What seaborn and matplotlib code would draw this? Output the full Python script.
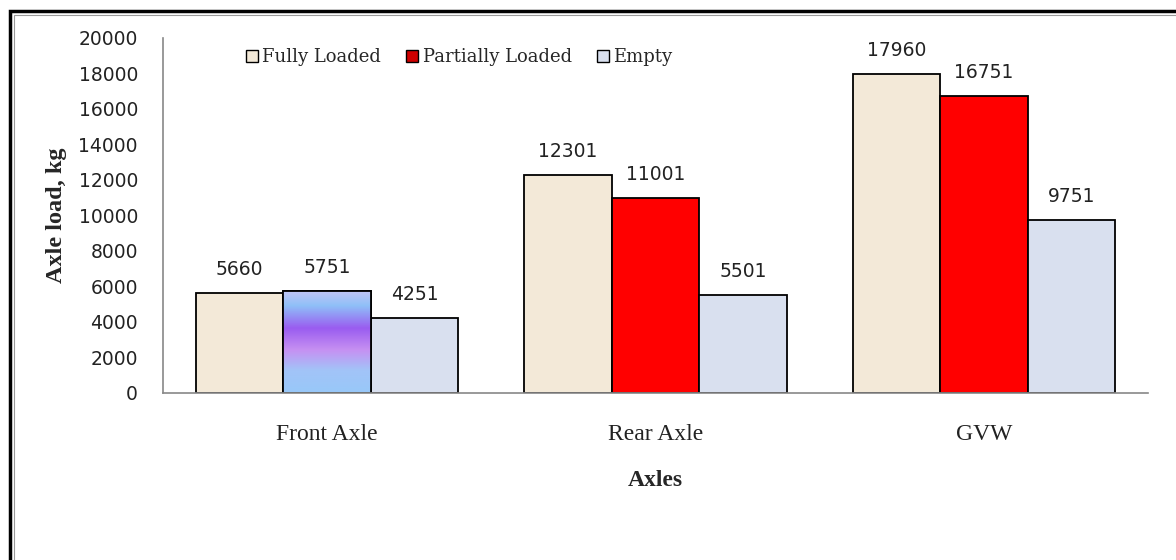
import matplotlib
matplotlib.use("Agg")
import matplotlib.pyplot as plt
import seaborn as sns
import numpy as np
import pandas as pd
from matplotlib.patches import Patch, Rectangle
from matplotlib.colors import LinearSegmentedColormap

categories = ["Front Axle", "Rear Axle", "GVW"]
series_names = ["Fully Loaded", "Partially Loaded", "Empty"]
fully_loaded = [5660, 12301, 17960]
partially_loaded = [5751, 11001, 16751]
empty = [4251, 5501, 9751]
y_ticks = [0, 2000, 4000, 6000, 8000, 10000, 12000, 14000, 16000, 18000, 20000]

colors = {"Fully Loaded": "#F3E9D8", "Partially Loaded": "#FF0000", "Empty": "#D9E0EF"}

rows = []
for name, vals in zip(series_names, [fully_loaded, partially_loaded, empty]):
    for c, v in zip(categories, vals):
        rows.append({"Axle": c, "Series": name, "Load": v})
df = pd.DataFrame(rows)

sns.set_theme(style="white")
plt.rcParams["font.family"] = ["DejaVu Sans"]

fig = plt.figure(figsize=(11.76, 5.6), dpi=100)
ax = fig.add_axes([163 / 1176, 1 - 393 / 560, (1148 - 163) / 1176, (393 - 38) / 560])

sns.barplot(data=df, x="Axle", y="Load", hue="Series", order=categories,
            hue_order=series_names, palette=colors, edgecolor="black",
            linewidth=1.3, width=0.8, ax=ax, legend=False, saturation=1)

ax.set_ylim(0, 20000)
ax.set_xlim(-0.5, 2.5)
ax.set_yticks(y_ticks)
ax.set_yticklabels([str(t) for t in y_ticks], fontsize=13.5, family="DejaVu Sans", color="#222222")
ax.set_xticks(range(len(categories)))
ax.set_xticklabels(categories, fontsize=17, family="Liberation Serif", color="#222222")
ax.tick_params(axis="y", length=0, pad=18)
ax.tick_params(axis="x", length=0, pad=22)

ax.set_ylabel("Axle load, kg", fontsize=17.5, fontweight="bold", family="Liberation Serif", labelpad=8)
ax.set_xlabel("Axles", fontsize=17, fontweight="bold", family="Liberation Serif", labelpad=18)

for s in ["top", "right"]:
    ax.spines[s].set_visible(False)
for s in ["left", "bottom"]:
    ax.spines[s].set_color("#888888")
    ax.spines[s].set_linewidth(1.2)

# value labels
for cont in ax.containers:
    ax.bar_label(cont, labels=[f"{int(round(b.get_height()))}" for b in cont],
                 padding=10, fontsize=13.5, family="DejaVu Sans", color="#222222")

# gradient fill for the Front Axle "Partially Loaded" bar
bar = ax.containers[1][0]
bx, bw, bh = bar.get_x(), bar.get_width(), bar.get_height()
grad_cmap = LinearSegmentedColormap.from_list(
    "grad",
    [(0.0, "#C4C6F6"), (0.15, "#8FC0F8"), (0.37, "#9A5CF0"),
     (0.58, "#C690F2"), (0.78, "#A2C4F8"), (1.0, "#98C8F8")])
grad = np.linspace(0, 1, 256).reshape(-1, 1)
im = ax.imshow(grad, cmap=grad_cmap, aspect="auto",
               extent=[bx, bx + bw, 0, bh], origin="upper", zorder=bar.get_zorder() + 0.1)
im.set_clip_path(bar)
edge = Rectangle((bx, 0), bw, bh, fill=False, edgecolor="black", linewidth=1.3,
                 zorder=bar.get_zorder() + 0.2)
ax.add_patch(edge)
ax.set_ylim(0, 20000)
ax.set_xlim(-0.5, 2.5)

# legend
handles = [Patch(facecolor="#F3E9D8", edgecolor="black", linewidth=1.0),
           Patch(facecolor="#D00000", edgecolor="black", linewidth=1.0),
           Patch(facecolor="#D9E0EF", edgecolor="black", linewidth=1.0)]
fig.legend(handles, series_names, loc="center left",
           bbox_to_anchor=(246 / 1176, 1 - 57 / 560), ncol=3, frameon=False,
           prop={"family": "DejaVu Serif", "size": 13},
           handlelength=0.65, handleheight=0.65, handletextpad=0.25,
           columnspacing=1.4, borderaxespad=0, borderpad=0)

# figure border (top and left visible)
fig.patches.append(Rectangle((10 / 1176, -0.1), 1.2, 1 - 11 / 560 + 0.1,
                             transform=fig.transFigure, fill=False,
                             edgecolor="black", linewidth=2.5))
fig.patches.append(Rectangle((14 / 1176, -0.1), 1.2, 1 - 15 / 560 + 0.1,
                             transform=fig.transFigure, fill=False,
                             edgecolor="#999999", linewidth=0.8))

fig.savefig("out.png", dpi=100, facecolor="white")
